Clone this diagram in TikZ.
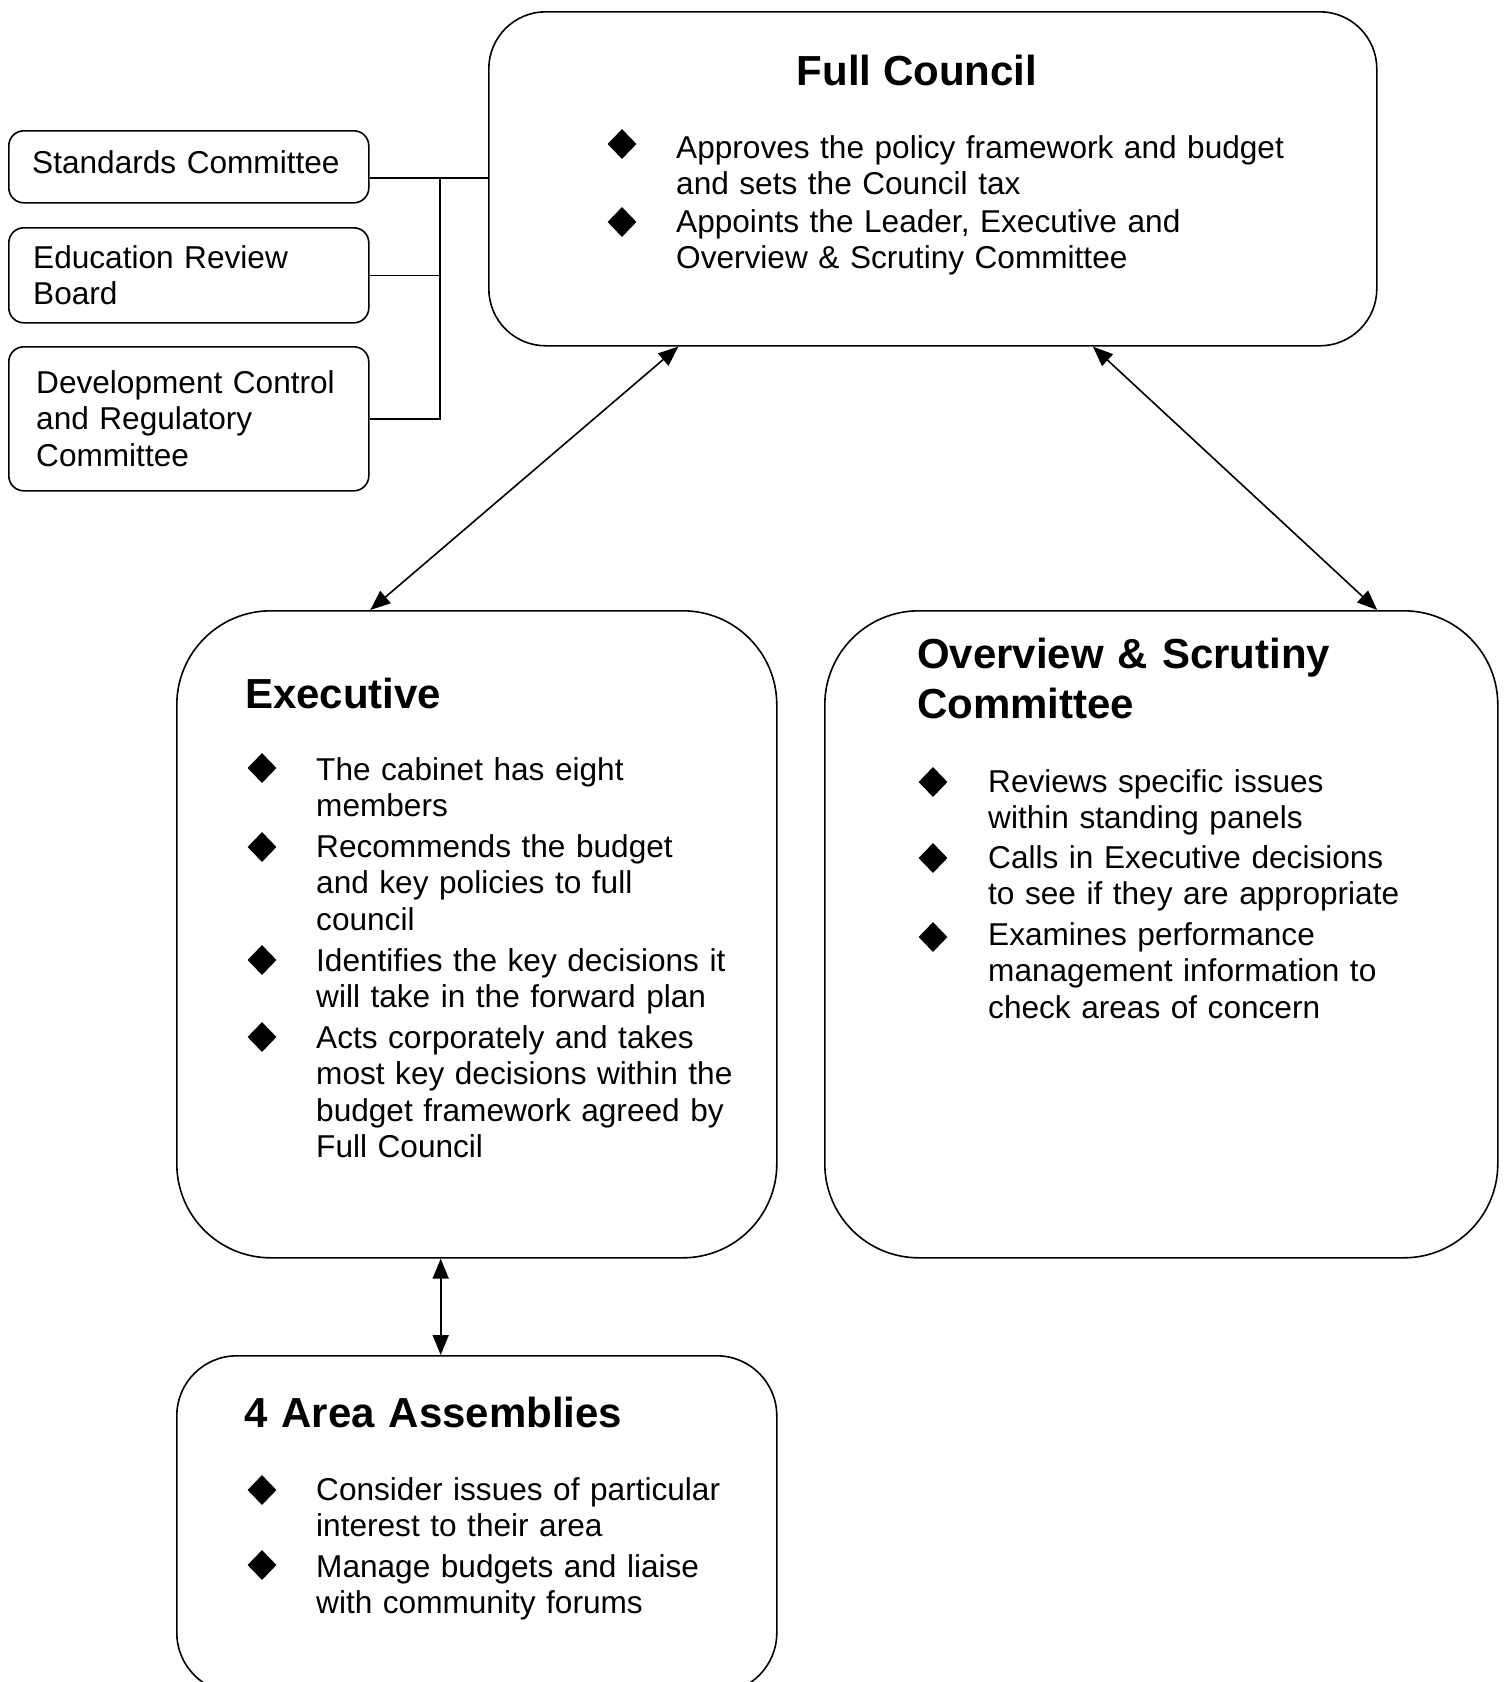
\documentclass[tikz,border=0pt]{standalone}
\usepackage{fontspec}
\setmainfont{Liberation Sans}
\usetikzlibrary{shapes.geometric,arrows.meta,calc}
\begin{document}
\begin{tikzpicture}[x=1pt,y=-1pt,
  frame/.style={draw=black, line width=1.6pt, fill=white, inner sep=0pt, anchor=north west},
  ttl/.style={font=\fontsize{42}{50}\selectfont\bfseries, inner sep=0pt, anchor=base west, align=left, text width=700pt},
  body/.style={font=\fontsize{31.6}{36.6}\selectfont, inner sep=0pt, anchor=base west, align=left, text width=700pt},
  bul/.style={diamond, fill=black, inner sep=0pt, minimum width=29pt, minimum height=30pt},
  link/.style={line width=1.6pt},
  dbl/.style={line width=1.6pt, {Triangle[length=20pt,width=16pt]}-{Triangle[length=20pt,width=16pt]}}
]
\useasboundingbox (0,0) rectangle (1504,1682);
\fill[white] (0,0) rectangle (1504,1682);
\clip (0,0) rectangle (1504,1682);

% boxes
\node[frame, rounded corners=57pt, minimum width=888pt, minimum height=334pt] (fc) at (488,11) {};
\node[frame, rounded corners=15pt, minimum width=360pt, minimum height=72pt] (std) at (8,130) {};
\node[frame, rounded corners=15pt, minimum width=360pt, minimum height=95pt] (edu) at (8,227) {};
\node[frame, rounded corners=15pt, minimum width=360pt, minimum height=144pt] (dev) at (8,346) {};
\node[frame, rounded corners=94pt, minimum width=600pt, minimum height=647pt] (exe) at (176,610) {};
\node[frame, rounded corners=94pt, minimum width=673pt, minimum height=647pt] (ovs) at (824,610) {};
\node[frame, rounded corners=60pt, minimum width=600pt, minimum height=337pt] (area) at (176,1355) {};

% connectors of the committees
\coordinate (bus) at (440,178);
\draw[link] (std.east |- bus) -- (fc.west |- bus);
\draw[link] (bus) |- (dev.east);
\draw[link] (edu.east) -- (edu.east -| bus);

% arrows
\draw[dbl] ($(fc.south west)!0.214!(fc.south east)$) -- ($(exe.north west)!0.323!(exe.north east)$);
\draw[dbl] ($(fc.south west)!0.680!(fc.south east)$) -- ($(ovs.north west)!0.82!(ovs.north east)$);
\draw[dbl] ($(exe.south west)!0.44!(exe.south east)$) -- ($(area.north west)!0.44!(area.north east)$);

% Full Council
\node[font=\fontsize{42}{50}\selectfont\bfseries, inner sep=0pt, anchor=base] (fct) at (917,85) {Full Council};
\node[bul] (fcb1) at (622,144) {};
\node[body] (fcx1) at (676,158) {Approves the policy framework and budget\\and sets the Council tax};
\node[bul] (fcb2) at (622,222) {};
\node[body] (fcx2) at (676,232) {Appoints the Leader, Executive and\\Overview \& Scrutiny Committee};

% committees
\node[body] (stdt) at (32,173) {Standards Committee};
\node[body] (edut) at (33,268) {Education Review\\Board};
\node[body] (devt) at (36,393) {Development Control\\and Regulatory\\Committee};

% Executive
\node[ttl] (exet) at (245,708) {Executive};
\node[bul] (exb1) at (262,768) {};
\node[body] (exx1) at (316,780) {The cabinet has eight\\members};
\node[bul] (exb2) at (262,847) {};
\node[body] (exx2) at (316,857) {Recommends the budget\\and key policies to full\\council};
\node[bul] (exb3) at (262,960) {};
\node[body] (exx3) at (316,971) {Identifies the key decisions it\\will take in the forward plan};
\node[bul] (exb4) at (262,1037) {};
\node[body] (exx4) at (316,1048) {Acts corporately and takes\\most key decisions within the\\budget framework agreed by\\Full Council};

% Overview & Scrutiny
\node[ttl] (ovst) at (917,668) {Overview \& Scrutiny\\Committee};
\node[bul] (ovb1) at (933,782) {};
\node[body] (ovx1) at (988,792) {Reviews specific issues\\within standing panels};
\node[bul] (ovb2) at (933,858) {};
\node[body] (ovx2) at (988,868) {Calls in Executive decisions\\to see if they are appropriate};
\node[bul] (ovb3) at (933,937) {};
\node[body] (ovx3) at (988,945) {Examines performance\\management information to\\check areas of concern};

% Area Assemblies
\node[ttl] (areat) at (244,1427) {4 Area Assemblies};
\node[bul] (arb1) at (262,1490) {};
\node[body] (arx1) at (316,1500) {Consider issues of particular\\interest to their area};
\node[bul] (arb2) at (262,1565) {};
\node[body] (arx2) at (316,1577) {Manage budgets and liaise\\with community forums};
\end{tikzpicture}
\end{document}
